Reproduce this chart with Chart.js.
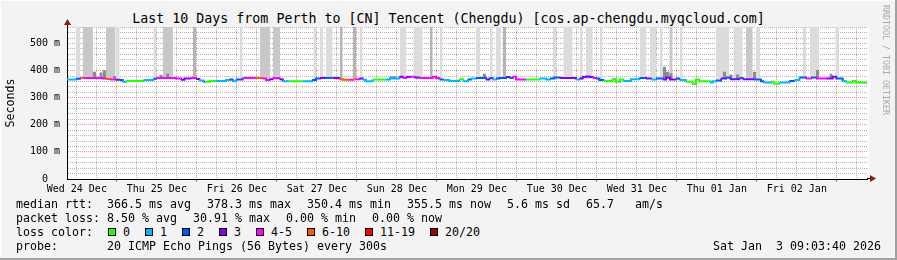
<!DOCTYPE html>
<html>
<head>
<meta charset="utf-8">
<script src="https://cdn.jsdelivr.net/npm/chart.js@4.4.1/dist/chart.umd.min.js"></script>
<style>
  html, body { margin: 0; padding: 0; background: #f3f3f3; }
  #frame {
    position: relative; width: 897px; height: 260px; overflow: hidden;
    background: #f3f3f3;
    box-shadow: inset -2px -2px 0 #a0a0a0, inset 1px 1px 0 #ffffff;
    font-family: "DejaVu Sans Mono", monospace; color: #000;
  }
  #chart { position: absolute; left: 0; top: 0; }
  .txt { position: absolute; white-space: pre; font-size: 11.63px; line-height: 14px; }
  #title { position: absolute; left: 0; top: 11px; width: 897px; text-align: center;
           font-size: 13.3px; line-height: 16px; white-space: pre; }
  #brand { position: absolute; left: 881px; top: 5px; writing-mode: vertical-rl;
           font-size: 8.3px; line-height: 10px; color: #a8a8a8; white-space: pre; }
  #lossRow { position: absolute; left: 108px; top: 225px; display: flex; align-items: center;
             font-size: 11.63px; line-height: 14px; }
  .sq { display: inline-block; width: 6px; height: 6px; border: 1px solid #000; }
  .lab { margin-left: 7px; margin-right: 15px; }
</style>
</head>
<body>
<div id="frame">
  <div id="title">Last 10 Days from Perth to [CN] Tencent (Chengdu) [cos.ap-chengdu.myqcloud.com]</div>
  <canvas id="chart" width="897" height="201"></canvas>
  <div id="brand">RRDTOOL / TOBI OETIKER</div>
  <div id="lossRow"></div>
</div>
<script>
// x is hours since window start (Wed 24 Dec 09:03:40), window is 240 h
const dayLabels = ["Wed 24 Dec", "Thu 25 Dec", "Fri 26 Dec", "Sat 27 Dec", "Sun 28 Dec",
                   "Mon 29 Dec", "Tue 30 Dec", "Wed 31 Dec", "Thu 01 Jan", "Fri 02 Jan"];
const lossLabels = ["0", "1", "2", "3", "4-5", "6-10", "11-19", "20/20"];
const lossColors = ["#26ff00", "#00b8ff", "#0059ff", "#7e00ff", "#ff00ff", "#ff5500", "#ff0000", "#a10000"];

// median rtt (ms), step changes: start hour, value, loss class
const rttHours = [0, 2.7, 3.9, 4.9, 10.7, 11.7, 12.9, 14.5, 15.7, 16.7, 17.7, 22.9, 25.9, 26.7, 32.7, 34.2, 35.2, 37.0, 38.7, 39.7,
  40.9, 41.5, 42.9, 44.7, 47.7, 48.7, 49.7, 50.7, 52.7, 56.7, 58.7, 59.7, 60.7, 61.7, 63.7, 64.7, 66.7, 70.7, 73.5, 74.7,
  75.9, 77.7, 79.7, 81.7, 82.7, 84.9, 85.9, 86.7, 87.7, 88.7, 89.7, 91.7, 95.7, 96.9, 99.7, 100.7, 101.7, 103.2, 104.2, 105.7,
  109.7, 110.7, 111.7, 112.9, 114.7, 117.7, 118.9, 120.2, 121.2, 122.7, 125.7, 126.7, 127.7, 128.7, 129.7, 131.7, 132.7, 133.7, 134.7, 137.7,
  141.7, 143.7, 144.9, 146.2, 147.7, 152.7, 153.7, 154.7, 155.7, 156.7, 157.7, 158.7, 159.7, 160.9, 163.7, 164.7, 165.9, 166.9, 169.2, 171.7,
  173.7, 175.2, 176.7, 178.7, 179.7, 180.9, 182.7, 183.7, 185.7, 187.7, 188.7, 189.7, 192.9, 193.7, 194.7, 196.2, 197.7, 198.9, 201.7, 202.7,
  206.2, 208.2, 208.9, 211.2, 212.2, 213.7, 216.7, 218.2, 219.7, 221.7, 223.2, 224.7, 227.7, 229.7, 230.7, 232.7, 233.7, 235.7, 236.7, 238.7];
const rttValues = [367, 370, 373, 373, 371, 369, 367, 366, 365, 359, 362, 365, 370, 373, 371, 366, 371, 373, 369, 364,
  359, 359, 362, 362, 365, 367, 361, 367, 373, 373, 371, 365, 368, 373, 368, 361, 361, 361, 365, 371,
  373, 373, 373, 368, 366, 366, 368, 368, 371, 366, 361, 367, 367, 371, 377, 373, 377, 377, 375, 373,
  377, 373, 367, 365, 362, 368, 361, 367, 371, 373, 367, 373, 367, 371, 373, 376, 373, 377, 367, 367,
  371, 367, 371, 375, 373, 367, 371, 376, 378, 376, 373, 371, 365, 362, 368, 359, 367, 362, 368, 373,
  371, 367, 371, 367, 375, 367, 371, 365, 359, 351, 367, 361, 356, 361, 364, 371, 375, 368, 373, 368,
  367, 361, 356, 359, 352, 356, 362, 365, 375, 371, 375, 371, 371, 377, 371, 361, 356, 362, 356, 355];
const rttLoss = [1, 2, 5, 4, 4, 5, 4, 3, 2, 1, 0, 1, 2, 4, 4, 3, 3, 4, 3, 1,
  2, 0, 0, 1, 1, 2, 1, 2, 4, 5, 4, 4, 3, 4, 3, 1, 0, 1, 2, 2,
  3, 2, 3, 5, 5, 4, 5, 4, 3, 1, 1, 0, 1, 1, 3, 4, 3, 4, 3, 4,
  4, 4, 2, 1, 1, 0, 1, 2, 1, 2, 3, 2, 1, 2, 2, 3, 2, 4, 4, 0,
  1, 1, 2, 2, 3, 1, 3, 3, 3, 3, 4, 2, 2, 0, 0, 0, 0, 1, 1, 2,
  3, 1, 2, 3, 3, 3, 2, 1, 0, 0, 0, 0, 1, 1, 2, 3, 2, 3, 2, 3,
  2, 2, 1, 0, 0, 1, 2, 1, 2, 4, 2, 4, 3, 3, 2, 1, 0, 0, 0, 0];

// smoke: periods where some pings went off the top of the graph [from, to]
const smokeLight = [[2.6, 3.9], [14.5, 15.8], [25.9, 26.7], [51.8, 52.7], [73.9, 74.7], [75.9, 76.9], [77.7, 79.7],
  [87.9, 88.7], [99.9, 101.7], [103.9, 106.7], [111.9, 112.7], [122.7, 123.9], [126.9, 127.7], [128.7, 130.2],
  [145.7, 146.7], [148.9, 151.7], [153.9, 154.7], [155.7, 157.7], [159.9, 160.7], [171.9, 173.7], [174.9, 176.7],
  [177.9, 178.7], [183.9, 184.7], [194.7, 198.7], [199.9, 202.7], [206.7, 207.9], [220.7, 221.7], [222.9, 225.7], [230.5, 231.7]];
const smokeMid = [[4.8, 7.8], [11.7, 14.5], [28.8, 31.8], [57.9, 60.9], [61.7, 63.9], [180.7, 181.7], [203.7, 205.7]];
const smokeDark = [[37.8, 38.7], [81.9, 82.7], [85.7, 86.7], [108.9, 109.7], [130.7, 131.7]];
// smaller smoke just above the median [from, to, top ms]
const smokeNear = [[7.7, 8.7, 396], [9.7, 10.7, 393], [10.7, 11.7, 401], [13.7, 14.7, 380], [27.7, 28.7, 385],
  [29.7, 30.7, 388], [96.7, 98.7, 379], [124.7, 125.7, 388], [178.7, 179.7, 414], [179.7, 180.7, 396],
  [180.7, 181.7, 390], [196.7, 197.7, 396], [198.7, 199.7, 386], [200.7, 201.7, 386], [205.7, 206.7, 396],
  [224.7, 225.7, 402], [228.7, 229.7, 388]];

const yTop = 561;
const firstNoon = 2.9389; // Wed 24 Dec 12:00 in hours after 09:03:40

function bands(list) {
  let pts = [];
  list.forEach(b => {
    let top = b.length > 2 ? b[2] : yTop;
    pts.push({x: b[0], y: top}, {x: b[1], y: top}, {x: b[1], y: null});
  });
  return pts;
}

function smokeSet(list, color) {
  return {
    data: bands(list), fill: {value: 370}, backgroundColor: color,
    borderColor: "transparent", borderWidth: 0, pointRadius: 0, spanGaps: false
  };
}

let medianPts = rttHours.map((h, i) => ({x: h, y: rttValues[i]}));
medianPts.push({x: 240, y: rttValues[rttValues.length - 1]});

let tickHours = [];
for (let h = firstNoon; h < 240; h += 6) tickHours.push(h);

const mono = "'DejaVu Sans Mono', monospace";
const minorGrid = "#b4b4b4";
const majorGrid = "rgba(220,80,80,0.6)";

const framePlugin = {
  id: "framePlugin",
  beforeDraw(chart) {
    const {ctx, chartArea: a} = chart;
    ctx.save();
    ctx.fillStyle = "#ffffff";
    ctx.fillRect(a.left, a.top, a.right - a.left + 2, a.bottom - a.top);
    ctx.restore();
  },
  afterDraw(chart) {
    const {ctx, chartArea: a} = chart;
    ctx.save();
    ctx.strokeStyle = "#000";
    ctx.lineWidth = 1;
    ctx.beginPath();
    ctx.moveTo(a.left + 0.5, a.top);
    ctx.lineTo(a.left + 0.5, a.top - 4);
    ctx.moveTo(a.right, a.bottom - 0.5);
    ctx.lineTo(a.right + 3, a.bottom - 0.5);
    ctx.stroke();
    ctx.fillStyle = "#8b1a1a";
    ctx.beginPath();
    ctx.moveTo(a.left + 0.5, a.top - 8);
    ctx.lineTo(a.left + 4, a.top - 2);
    ctx.lineTo(a.left - 3, a.top - 2);
    ctx.closePath();
    ctx.fill();
    ctx.beginPath();
    ctx.moveTo(a.right + 9, a.bottom - 0.5);
    ctx.lineTo(a.right + 3, a.bottom - 4);
    ctx.lineTo(a.right + 3, a.bottom + 3);
    ctx.closePath();
    ctx.fill();
    ctx.restore();
  }
};

new Chart(document.getElementById("chart"), {
  type: "line",
  data: {
    datasets: [
      {
        data: medianPts, stepped: true, borderWidth: 2, pointRadius: 0, fill: false,
        borderColor: lossColors[0],
        segment: { borderColor: c => lossColors[rttLoss[c.p0DataIndex]] }
      },
      smokeSet(smokeNear, "#8c8c8c"),
      smokeSet(smokeDark, "#b4b4b4"),
      smokeSet(smokeMid, "#c8c8c8"),
      smokeSet(smokeLight, "#dcdcdc")
    ]
  },
  options: {
    responsive: false,
    animation: false,
    layout: { padding: { top: 27, right: 30, left: 0, bottom: 0 } },
    plugins: { legend: { display: false }, tooltip: { enabled: false } },
    scales: {
      x: {
        type: "linear", min: 0, max: 240,
        afterBuildTicks: s => { s.ticks = tickHours.map(v => ({value: v})); },
        afterFit: s => { s.height = 22; },
        ticks: {
          autoSkip: false, maxRotation: 0, minRotation: 0, padding: 1, color: "#000",
          font: { family: mono, size: 10 },
          callback: (v, i) => (i % 4 === 0 ? dayLabels[i / 4] : "")
        },
        grid: {
          color: c => (c.index % 4 === 2 ? majorGrid : minorGrid),
          tickColor: c => (c.index % 4 === 2 ? "rgba(220,60,60,0.8)" : "transparent"),
          tickLength: 3
        },
        border: { color: "#000", width: 1, dash: [1, 1] }
      },
      y: {
        min: 0, max: yTop,
        afterFit: s => { s.width = 67; },
        ticks: {
          stepSize: 20, includeBounds: false, autoSkip: false, padding: 4, color: "#000",
          font: { family: mono, size: 10 },
          callback: v => (v % 100 === 0 ? (v === 0 ? "0  " : v + " m") : "")
        },
        grid: {
          color: c => (c.tick.value % 100 === 0 ? majorGrid : minorGrid),
          tickColor: "transparent", tickLength: 3
        },
        border: { color: "#000", width: 1, dash: [1, 1] },
        title: {
          display: true, text: "Seconds", color: "#000",
          font: { family: mono, size: 11.63 }, padding: { top: 4, bottom: 0 }
        }
      }
    }
  },
  plugins: [framePlugin]
});

// text legend below the graph
const textLines = [
  [16, 197, "median rtt:"], [107, 197, "366.5 ms avg"], [207, 197, "378.3 ms max"], [307, 197, "350.4 ms min"],
  [407, 197, "355.5 ms now"], [507, 197, "5.6 ms sd"], [586, 197, "65.7"], [635, 197, "am/s"],
  [16, 211, "packet loss:"], [107, 211, "8.50 % avg"], [193, 211, "30.91 % max"], [286, 211, "0.00 % min"], [372, 211, "0.00 % now"],
  [16, 225, "loss color:"],
  [16, 239, "probe:"], [107, 239, "20 ICMP Echo Pings (56 Bytes) every 300s"], [713, 239, "Sat Jan  3 09:03:40 2026"]
];
const frame = document.getElementById("frame");
textLines.forEach(t => {
  let d = document.createElement("div");
  d.className = "txt";
  d.style.left = t[0] + "px";
  d.style.top = t[1] + "px";
  d.textContent = t[2];
  frame.appendChild(d);
});
const row = document.getElementById("lossRow");
lossLabels.forEach((lab, i) => {
  let sq = document.createElement("span");
  sq.className = "sq";
  sq.style.background = lossColors[i];
  let tx = document.createElement("span");
  tx.className = "lab";
  tx.textContent = lab;
  row.appendChild(sq);
  row.appendChild(tx);
});
</script>
</body>
</html>
